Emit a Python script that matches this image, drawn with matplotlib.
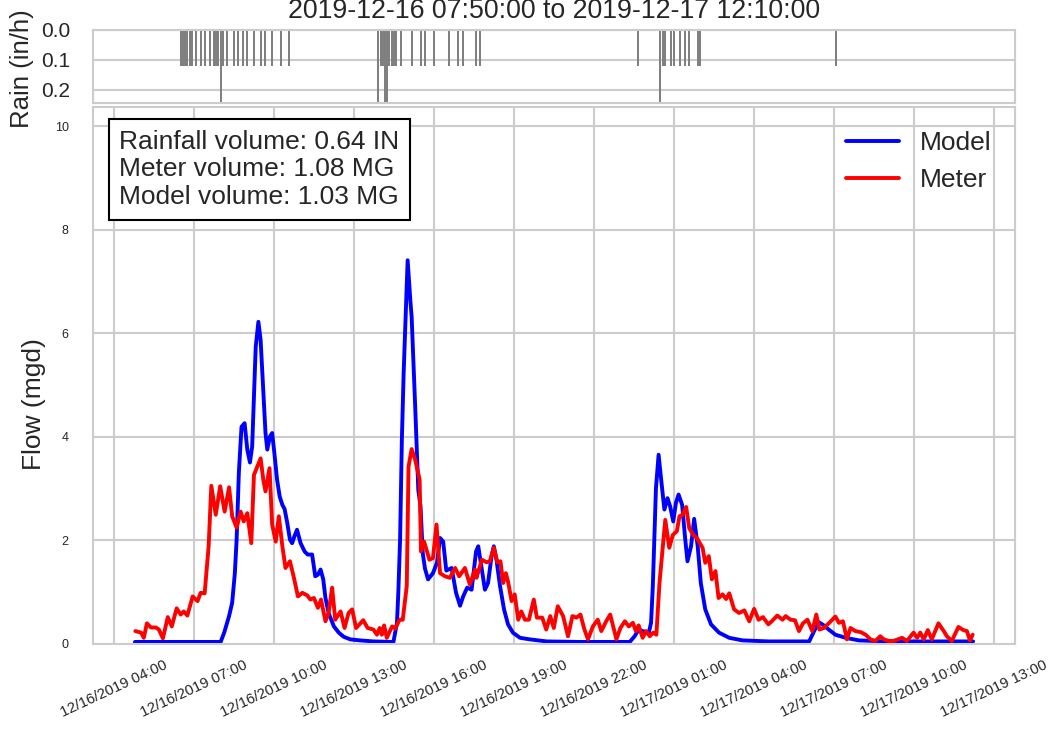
import numpy as np
import pandas as pd
import matplotlib
matplotlib.use('Agg')
import matplotlib.pyplot as plt
import matplotlib.dates as mdates
import seaborn as sns

# время в минутах от 12/16/2019 04:00
meter_minutes = [48, 61, 67, 74, 83, 94, 101, 110, 121, 130, 141, 150, 157, 165, 177, 188, 195, 204,
                 213, 219, 229, 239, 249, 259, 266, 276, 285, 292, 300, 309, 315, 330, 336, 341, 350,
                 356, 364, 371, 379, 386, 396, 405, 414, 424, 435, 442, 450, 459, 466, 476, 483, 491,
                 498, 510, 519, 528, 536, 545, 561, 571, 584, 592, 598, 603, 608, 614, 626, 633, 643,
                 650, 659, 663, 670, 678, 688, 691, 698, 710, 718, 726, 734, 745, 756, 768, 777, 790,
                 801, 813, 816, 828, 839, 846, 855, 863, 870, 876, 882, 887, 895, 902, 910, 917, 925,
                 934, 945, 952, 964, 973, 982, 990, 999, 1011, 1022, 1032, 1041, 1050, 1059, 1067,
                 1078, 1089, 1097, 1108, 1117, 1131, 1140, 1150, 1159, 1168, 1175, 1181, 1190, 1198,
                 1206, 1214, 1221, 1228, 1241, 1250, 1258, 1267, 1273, 1280, 1288, 1295, 1304, 1312,
                 1325, 1331, 1339, 1346, 1354, 1361, 1370, 1378, 1385, 1396, 1407, 1419, 1430, 1441,
                 1451, 1461, 1473, 1482, 1493, 1505, 1512, 1523, 1533, 1542, 1551, 1561, 1572, 1581,
                 1588, 1598, 1609, 1624, 1632, 1641, 1650, 1658, 1669, 1681, 1692, 1703, 1714, 1725,
                 1733, 1744, 1755, 1774, 1785, 1800, 1808, 1815, 1823, 1832, 1841, 1856, 1868, 1875,
                 1886, 1901, 1912, 1920, 1927, 1933]
meter_mgd = [0.24, 0.21, 0.11, 0.39, 0.31, 0.31, 0.27, 0.10, 0.51, 0.33, 0.68, 0.56, 0.62, 0.54, 0.91,
             0.82, 0.98, 0.97, 1.88, 3.05, 2.49, 3.04, 2.55, 3.02, 2.46, 2.24, 2.55, 2.36, 2.52, 1.94,
             3.26, 3.58, 3.17, 2.94, 3.39, 2.30, 1.97, 2.46, 1.88, 1.46, 1.59, 1.27, 0.91, 0.98, 0.93,
             0.85, 0.88, 0.69, 0.85, 0.43, 0.59, 1.08, 0.46, 0.62, 0.30, 0.59, 0.66, 0.30, 0.45, 0.30,
             0.27, 0.17, 0.30, 0.17, 0.35, 0.11, 0.33, 0.29, 0.46, 0.46, 1.11, 3.42, 3.76, 3.55, 3.17,
             1.78, 1.97, 1.62, 1.65, 2.30, 1.36, 1.30, 1.27, 1.46, 1.30, 1.46, 1.14, 1.43, 1.27, 1.62,
             1.57, 1.59, 1.85, 1.57, 1.59, 1.17, 1.36, 1.20, 0.82, 0.95, 0.46, 0.62, 0.46, 0.46, 0.85,
             0.50, 0.50, 0.27, 0.53, 0.30, 0.72, 0.53, 0.14, 0.53, 0.50, 0.56, 0.27, 0.08, 0.33, 0.46,
             0.24, 0.43, 0.56, 0.08, 0.30, 0.43, 0.33, 0.40, 0.24, 0.35, 0.11, 0.24, 0.14, 0.21, 0.17,
             1.17, 2.39, 1.85, 2.10, 2.17, 2.46, 2.49, 2.64, 2.23, 2.10, 2.04, 1.85, 1.56, 1.69, 1.24,
             1.40, 0.88, 0.95, 0.86, 0.97, 0.66, 0.59, 0.64, 0.43, 0.67, 0.46, 0.51, 0.37, 0.44, 0.54,
             0.46, 0.53, 0.46, 0.45, 0.24, 0.39, 0.46, 0.24, 0.56, 0.27, 0.30, 0.39, 0.52, 0.40, 0.43,
             0.08, 0.30, 0.24, 0.22, 0.17, 0.08, 0.05, 0.14, 0.08, 0.05, 0.05, 0.11, 0.05, 0.21, 0.11,
             0.21, 0.08, 0.26, 0.08, 0.39, 0.24, 0.14, 0.05, 0.32, 0.26, 0.24, 0.06, 0.17]

model_minutes = [47, 240, 248, 259, 266, 272, 276, 281, 287, 294, 300, 306, 311, 319, 325, 330, 336, 341,
                 345, 351, 356, 361, 367, 373, 379, 384, 390, 396, 401, 406, 412, 420, 429, 436, 446,
                 453, 459, 465, 471, 476, 483, 495, 506, 517, 532, 554, 584, 629, 637, 640, 644, 648,
                 652, 661, 667, 670, 678, 685, 690, 695, 700, 707, 718, 727, 734, 741, 748, 760, 770,
                 779, 786, 795, 805, 815, 820, 828, 835, 842, 850, 855, 861, 869, 878, 887, 898, 914,
                 936, 974, 1048, 1161, 1172, 1181, 1190, 1204, 1209, 1213, 1220, 1226, 1231, 1239,
                 1246, 1252, 1259, 1265, 1271, 1279, 1286, 1291, 1299, 1306, 1314, 1321, 1331, 1344,
                 1362, 1385, 1415, 1475, 1565, 1576, 1587, 1598, 1609, 1624, 1647, 1677, 1737, 1934]
model_mgd = [0.03, 0.03, 0.21, 0.53, 0.79, 1.36, 2.01, 3.30, 4.19, 4.26, 3.75, 3.50, 3.81, 5.74, 6.22,
             5.87, 4.90, 4.07, 3.75, 4.00, 4.07, 3.68, 3.17, 2.84, 2.68, 2.60, 2.33, 2.01, 1.94, 2.07,
             2.20, 1.94, 1.78, 1.72, 1.72, 1.30, 1.33, 1.43, 1.24, 0.88, 0.59, 0.33, 0.21, 0.13, 0.08,
             0.06, 0.04, 0.03, 0.40, 0.98, 2.01, 3.94, 5.23, 7.41, 6.64, 6.32, 4.58, 2.97, 2.65, 1.75,
             1.45, 1.24, 1.36, 1.56, 2.04, 1.97, 1.41, 1.46, 0.98, 0.73, 0.91, 1.08, 1.04, 1.78, 1.88,
             1.43, 1.04, 1.17, 1.69, 1.88, 1.62, 1.11, 0.66, 0.37, 0.21, 0.11, 0.08, 0.04, 0.03, 0.03,
             0.14, 0.27, 0.24, 0.21, 0.40, 1.11, 3.00, 3.65, 3.23, 2.59, 2.81, 2.65, 2.36, 2.72, 2.88,
             2.68, 2.01, 1.59, 1.88, 2.41, 1.88, 1.17, 0.66, 0.37, 0.21, 0.11, 0.06, 0.04, 0.04, 0.24,
             0.41, 0.35, 0.27, 0.17, 0.11, 0.06, 0.04, 0.04]

rain_minutes = [150, 155, 160, 165, 170, 175, 185, 195, 205, 215, 225, 230, 235, 240, 245, 255, 270,
                280, 290, 300, 315, 330, 340, 355, 375, 395,
                595, 600, 605, 610, 615, 620, 625, 630, 635, 645, 670, 690, 700, 720, 755, 775, 785,
                815, 825,
                1180, 1230, 1235, 1240, 1255, 1260, 1275, 1285, 1295, 1315, 1320, 1625]
rain_inph = [0.12] * len(rain_minutes)
for m in (240, 595, 610, 615, 1230):
    rain_inph[rain_minutes.index(m)] = 0.24

title = '2019-12-16 07:50:00 to 2019-12-17 12:10:00'
volumes = ['Rainfall volume: 0.64 IN', 'Meter volume: 1.08 MG', 'Model volume: 1.03 MG']

start = pd.Timestamp('2019-12-16 04:00')
meter_t = start + pd.to_timedelta(meter_minutes, unit='min')
model_t = start + pd.to_timedelta(model_minutes, unit='min')
rain_t = start + pd.to_timedelta(rain_minutes, unit='min')

sns.set_style('whitegrid')
plt.rcParams['font.family'] = ['Liberation Sans', 'DejaVu Sans']
plt.rcParams['axes.edgecolor'] = '#cccccc'
plt.rcParams['grid.color'] = '#cccccc'
plt.rcParams['axes.linewidth'] = 1.5
plt.rcParams['grid.linewidth'] = 1.5
plt.rcParams['text.color'] = '#262626'

W, H = 1059, 732
fig = plt.figure(figsize=(W / 100, H / 100), dpi=100)
ax = fig.add_axes([93 / W, (H - 643.5) / H, 922 / W, 536.5 / H])
ax_rain = fig.add_axes([93 / W, (H - 103) / H, 922 / W, 73.5 / H], sharex=ax)

# осадки
ax_rain.bar(rain_t, rain_inph, width=4.5 / 1440, color='grey', edgecolor='none', linewidth=0)
ax_rain.set_ylim(0.245, 0)
ax_rain.set_yticks([0.0, 0.1, 0.2])
ax_rain.yaxis.set_major_formatter(matplotlib.ticker.FormatStrFormatter('%.1f'))
ax_rain.grid(axis='x', visible=False)
ax_rain.tick_params(axis='x', labelbottom=False)
ax_rain.tick_params(axis='y', labelsize=15, pad=13)
ax_rain.set_ylabel('Rain (in/h)', fontsize=18.5)
ax_rain.yaxis.set_label_coords(-0.064, 0.47)
ax_rain.set_title(title, fontsize=19.3, pad=8)

# расход
ax.plot(model_t, model_mgd, color='blue', lw=2.8, label='Model')
ax.plot(meter_t, meter_mgd, color='red', lw=2.8, label='Meter')
ax.set_ylim(0, 1.4 * max(max(model_mgd), max(meter_mgd)))
ax.set_yticks(np.arange(0, 11, 2))
ax.tick_params(axis='y', labelsize=9, pad=14)
ax.tick_params(axis='x', labelsize=10.7, pad=7)
ax.set_ylabel('Flow (mgd)', fontsize=19)
ax.yaxis.set_label_coords(-0.051, 0.446)
ax.xaxis.set_major_locator(mdates.HourLocator(byhour=range(1, 24, 3)))
ax.xaxis.set_major_formatter(mdates.DateFormatter('%m/%d/%Y %H:%M'))
plt.setp(ax.get_xticklabels(), rotation=25, ha='center')

ax.legend(loc='upper right', fontsize=19, frameon=False)
ax.text(0.0285, 0.958, '\n'.join(volumes), transform=ax.transAxes, fontsize=19, va='top',
        bbox=dict(boxstyle='square,pad=0.4', facecolor='white', edgecolor='black', lw=1.5))

fig.savefig('out.png', dpi=100)
